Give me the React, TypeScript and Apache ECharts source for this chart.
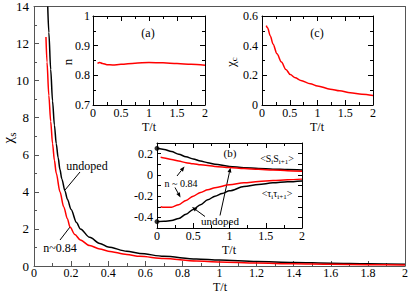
import React, { useEffect, useRef } from "react";
import * as echarts from "echarts";

// ---- main panel: chi_s vs T/t ----
const undopedT = [0.074, 0.08, 0.09, 0.1, 0.11, 0.12, 0.13, 0.14, 0.15, 0.167, 0.18, 0.2, 0.229, 0.25, 0.3, 0.355, 0.4, 0.5, 0.57, 0.7, 0.875, 1.0, 1.2, 1.4, 1.6, 1.8, 2.0];
const undopedChi = [14.0, 12.6, 10.6, 8.9, 7.6, 6.6, 5.85, 5.2, 4.7, 4.05, 3.6, 3.05, 2.35, 2.0, 1.55, 1.22, 1.02, 0.8, 0.68, 0.52, 0.38, 0.32, 0.24, 0.19, 0.15, 0.12, 0.1];
const dopedT = [0.0645, 0.07, 0.08, 0.09, 0.1, 0.11, 0.12, 0.14, 0.16, 0.18, 0.194, 0.22, 0.25, 0.3, 0.355, 0.4, 0.5, 0.57, 0.7, 0.875, 1.0, 1.2, 1.4, 1.6, 1.8, 2.0];
const dopedChi = [12.35, 11.0, 9.2, 7.8, 6.6, 5.7, 5.0, 4.0, 3.2, 2.55, 2.1, 1.7, 1.4, 1.1, 0.92, 0.8, 0.62, 0.52, 0.4, 0.27, 0.22, 0.16, 0.12, 0.09, 0.07, 0.05];

// ---- inset (a): n vs T/t ----
const nT = [0.08, 0.12, 0.17, 0.25, 0.35, 0.5, 0.75, 1.0, 1.25, 1.5, 1.75, 2.0];
const nVals = [0.840, 0.843, 0.840, 0.836, 0.835, 0.837, 0.841, 0.843, 0.842, 0.840, 0.837, 0.834];

// ---- inset (c): chi_c vs T/t ----
const chiCT = [0.077, 0.1, 0.15, 0.2, 0.27, 0.35, 0.43, 0.51, 0.6, 0.7, 0.87, 1.0, 1.23, 1.4, 1.59, 1.8, 2.0];
const chiCVals = [0.535, 0.52, 0.465, 0.41, 0.345, 0.29, 0.24, 0.205, 0.183, 0.165, 0.143, 0.128, 0.107, 0.096, 0.083, 0.073, 0.064];

// ---- inset (b): correlations ----
const sUndT = [0, 0.1, 0.2, 0.3, 0.4, 0.5, 0.6, 0.7, 0.8, 1.0, 1.2, 1.4, 1.6, 1.8, 2.0];
const sUnd = [0.25, 0.24, 0.22, 0.195, 0.17, 0.15, 0.13, 0.115, 0.10, 0.08, 0.068, 0.06, 0.054, 0.05, 0.046];
const sDopT = [0.05, 0.1, 0.2, 0.3, 0.4, 0.5, 0.6, 0.8, 1.0, 1.2, 1.4, 1.6, 1.8, 2.0];
const sDop = [0.165, 0.16, 0.145, 0.13, 0.115, 0.105, 0.095, 0.08, 0.07, 0.06, 0.052, 0.045, 0.04, 0.035];
const tauDopT = [0.05, 0.1, 0.2, 0.3, 0.4, 0.5, 0.6, 0.7, 0.8, 1.0, 1.2, 1.4, 1.6, 1.8, 2.0];
const tauDop = [-0.3, -0.305, -0.305, -0.28, -0.24, -0.2, -0.165, -0.14, -0.12, -0.093, -0.075, -0.062, -0.053, -0.046, -0.04];
const tauUndT = [0, 0.1, 0.2, 0.3, 0.4, 0.5, 0.6, 0.7, 0.8, 0.9, 1.0, 1.2, 1.4, 1.6, 1.8, 2.0];
const tauUnd = [-0.44, -0.437, -0.43, -0.41, -0.37, -0.325, -0.28, -0.235, -0.2, -0.175, -0.15, -0.11, -0.09, -0.075, -0.065, -0.057];

const FONT = "Times New Roman, Liberation Serif, DejaVu Serif, serif";
const zip = (xs: number[], ys: number[]) => xs.map((x, i) => [x, ys[i]]);

function axisPair(kind: "x" | "y", grid: number, min: number, max: number, interval: number, opts: any = {}) {
  const color = opts.color || "#000";
  const common = {
    type: "value",
    gridIndex: grid,
    min,
    max,
    interval,
    splitLine: { show: false },
    axisLine: { show: true, onZero: false, lineStyle: { color, width: opts.lineWidth || 1 } },
    axisTick: { show: true, inside: true, length: opts.tickLen || 5, lineStyle: { color } },
    minorTick: { show: opts.minor !== false, splitNumber: 2, length: 3, lineStyle: { color } },
  };
  const main = {
    ...common,
    position: kind === "x" ? "bottom" : "left",
    axisLabel: {
      show: true,
      fontFamily: FONT,
      fontSize: opts.fontSize || 12,
      color: "#000",
      margin: opts.margin ?? 4,
      formatter: opts.formatter,
    },
  };
  const mirror = {
    ...common,
    position: kind === "x" ? "top" : "right",
    axisLabel: { show: false },
    axisTick: opts.mirrorTicks === false ? { show: false } : common.axisTick,
    minorTick: opts.mirrorTicks === false ? { show: false } : common.minorTick,
  };
  return [main, mirror];
}

function arrow(x1: number, y1: number, x2: number, y2: number) {
  const dx = x2 - x1, dy = y2 - y1;
  const L = Math.sqrt(dx * dx + dy * dy);
  const ux = dx / L, uy = dy / L;
  const hl = 5, hw = 2;
  const bx = x2 - ux * hl, by = y2 - uy * hl;
  return [
    { type: "line", shape: { x1, y1, x2: bx, y2: by }, style: { stroke: "#000", lineWidth: 1 } },
    {
      type: "polygon",
      shape: { points: [[x2, y2], [bx - uy * hw, by + ux * hw], [bx + uy * hw, by - ux * hw]] },
      style: { fill: "#000" },
    },
  ];
}

function txt(x: number, y: number, text: string, size: number, extra: any = {}) {
  return {
    type: "text",
    x,
    y,
    rotation: extra.rotation || 0,
    style: {
      text,
      fontFamily: FONT,
      fontSize: size,
      fill: "#000",
      align: "center",
      verticalAlign: "middle",
      rich: extra.rich,
    },
  };
}

export default function App() {
  const ref = useRef<HTMLDivElement>(null);
  useEffect(() => {
    if (!ref.current) return;
    const chart = echarts.init(ref.current, null, { renderer: "svg" });
    const [mx, mx2] = axisPair("x", 0, 0, 2, 0.2, { fontSize: 12, color: "#555", mirrorTicks: false, margin: 1 });
    const [my, my2] = axisPair("y", 0, 0, 14, 2, { fontSize: 13, color: "#555", mirrorTicks: false, margin: 5 });
    const [ax, ax2] = axisPair("x", 1, 0, 2, 0.5, { margin: 2 });
    const [ay, ay2] = axisPair("y", 1, 0.7, 1, 0.1, { margin: 3 });
    const [cx, cx2] = axisPair("x", 2, 0, 2, 0.5, { margin: 2 });
    const [cy, cy2] = axisPair("y", 2, 0, 0.6, 0.2, { margin: 4 });
    const [bx, bx2] = axisPair("x", 3, 0, 2, 0.5, { margin: 2 });
    const [by, by2] = axisPair("y", 3, -0.5, 0.3, 0.1, {
      minor: false,
      tickLen: 4,
      margin: 4,
      formatter: (v: number) => {
        const k = Math.round(v * 10);
        return k % 2 === 0 ? String(k / 10) : "";
      },
    });

    const subRich = (size: number) => ({
      a: { fontFamily: FONT, fontSize: size, lineHeight: size + 4 },
      b: {
        fontFamily: FONT,
        fontSize: Math.round(size * 0.7),
        lineHeight: Math.round(size * 0.7),
        verticalAlign: "bottom",
      },
    });

    const lineSeries = (name: string, x: number, y: number, data: number[][], color: string) => ({
      type: "line",
      name,
      xAxisIndex: x,
      yAxisIndex: y,
      data,
      symbol: "none",
      smooth: 0.3,
      smoothMonotone: "x",
      lineStyle: { color, width: 1.5 },
      clip: true,
    });

    chart.setOption({
      animation: false,
      backgroundColor: "#fff",
      textStyle: { fontFamily: FONT },
      grid: [
        { left: 34, top: 6, width: 372, height: 260, show: true, backgroundColor: "#fff", borderWidth: 0 },
        { left: 93, top: 16, width: 112, height: 89, show: true, backgroundColor: "#fff", borderWidth: 0 },
        { left: 262, top: 16, width: 111, height: 89, show: true, backgroundColor: "#fff", borderWidth: 0 },
        { left: 157, top: 143, width: 145, height: 85, show: true, backgroundColor: "#fff", borderWidth: 0 },
      ],
      xAxis: [mx, mx2, ax, ax2, cx, cx2, bx, bx2],
      yAxis: [my, my2, ay, ay2, cy, cy2, by, by2],
      series: [
        lineSeries("undoped", 0, 0, zip(undopedT, undopedChi), "#000"),
        lineSeries("n~0.84", 0, 0, zip(dopedT, dopedChi), "#ff0000"),
        lineSeries("n", 2, 2, zip(nT, nVals), "#ff0000"),
        lineSeries("chi_c", 4, 4, zip(chiCT, chiCVals), "#ff0000"),
        lineSeries("SS undoped", 6, 6, zip(sUndT, sUnd), "#000"),
        lineSeries("SS doped", 6, 6, zip(sDopT, sDop), "#ff0000"),
        lineSeries("tt doped", 6, 6, zip(tauDopT, tauDop), "#ff0000"),
        lineSeries("tt undoped", 6, 6, zip(tauUndT, tauUnd), "#000"),
        {
          type: "scatter",
          xAxisIndex: 6,
          yAxisIndex: 6,
          data: [[sUndT[0], sUnd[0]], [tauUndT[0], tauUnd[0]]],
          symbol: "circle",
          symbolSize: 5,
          itemStyle: { color: "#000" },
          clip: false,
          z: 5,
        },
      ],
      graphic: [
        // main panel labels
        txt(220, 286.5, "T/t", 12),
        txt(8, 138, "{a|χ}{b|s}", 14, { rotation: Math.PI / 2, rich: subRich(15) }),
        txt(87, 166, "undoped", 12),
        { type: "line", shape: { x1: 80, y1: 172, x2: 65, y2: 190 }, style: { stroke: "#000", lineWidth: 1 } },
        txt(60, 248, "n~0.84", 12),
        { type: "line", shape: { x1: 60, y1: 240, x2: 70, y2: 227 }, style: { stroke: "#000", lineWidth: 1 } },
        // inset (a)
        txt(148, 33, "(a)", 12),
        txt(67, 62, "n", 13, { rotation: Math.PI / 2 }),
        txt(149, 127, "T/t", 12),
        // inset (c)
        txt(317, 33, "(c)", 12),
        txt(230, 62, "{a|χ}{b|c}", 13, { rotation: Math.PI / 2, rich: subRich(13) }),
        txt(317, 127, "T/t", 12),
        // inset (b)
        txt(230, 153, "(b)", 11),
        txt(277, 158, "{a|<S}{b|i}{a|S}{b|i+1}{a|>}", 10, { rich: subRich(10) }),
        txt(277, 193, "{a|<τ}{b|i}{a|τ}{b|i+1}{a|>}", 10, { rich: subRich(10) }),
        txt(181, 183, "n ~ 0.84", 10),
        txt(220, 221, "undoped", 11),
        txt(229, 250, "T/t", 12),
        ...arrow(177, 176, 184.5, 166.5),
        ...arrow(175, 187.5, 180.5, 197.5),
        ...arrow(205, 216.5, 192, 207),
        ...arrow(220, 215.5, 230.5, 167.5),
      ],
    });
    return () => chart.dispose();
  }, []);
  return <div ref={ref} style={{ position: "fixed", left: 0, top: 0, width: 411, height: 294 }} />;
}
